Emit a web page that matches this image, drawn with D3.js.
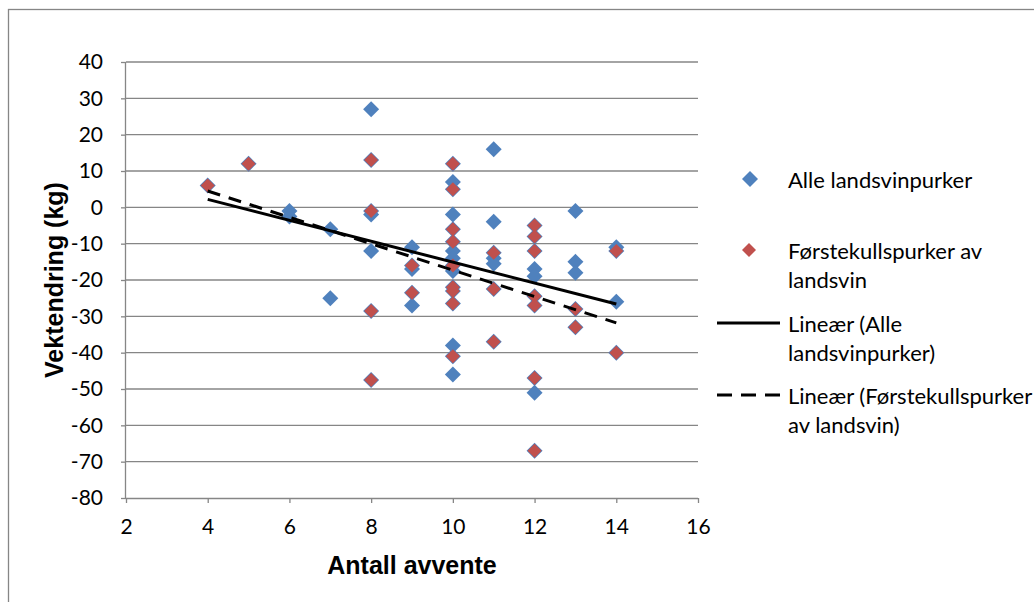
<!DOCTYPE html>
<html>
<head>
<meta charset="utf-8">
<script src="https://cdn.jsdelivr.net/npm/d3@7"></script>
<style>
  body { margin: 0; background: #fff; }
  svg { display: block; }
</style>
</head>
<body>
<svg id="chart" width="1034" height="602"></svg>
<script>
// ---- data ----
const xTicks = [2, 4, 6, 8, 10, 12, 14, 16];
const yTicks = [40, 30, 20, 10, 0, -10, -20, -30, -40, -50, -60, -70, -80];

// All sows (landsvin)
const allX = [4, 5, 6, 6, 7, 7, 8, 8, 8, 8, 8, 8, 8,
              9, 9, 9, 9, 9,
              10, 10, 10, 10, 10, 10, 10, 10, 10, 10, 10, 10, 10, 10, 10, 10,
              11, 11, 11, 11, 11, 11, 11,
              12, 12, 12, 12, 12, 12, 12, 12, 12, 12,
              13, 13, 13, 13, 13,
              14, 14, 14, 14];
const allY = [6, 12, -1, -2.5, -6, -25, 27, 13, -1, -2, -12, -28.5, -47.5,
              -11, -16, -17, -23.5, -27,
              12, 7, 5, -2, -6, -9.5, -12, -14, -16, -22, -23, -26.5, -38, -41, -46, -17.5,
              16, -4, -12.5, -14, -15.5, -22.5, -37,
              -5, -8, -12, -17, -19, -24.5, -27, -47, -51, -67,
              -1, -15, -18, -28, -33,
              -11, -12, -26, -40];

// First-litter sows (subset of the above)
const firstX = [4, 5, 8, 8, 8, 8, 9, 9,
                10, 10, 10, 10, 10, 10, 10, 10, 10,
                11, 11, 11,
                12, 12, 12, 12, 12, 12, 12,
                13, 13, 14, 14];
const firstY = [6, 12, 13, -1, -28.5, -47.5, -16, -23.5,
                12, 5, -6, -9.5, -16, -22, -23, -26.5, -41,
                -12.5, -22.5, -37,
                -5, -8, -12, -24.5, -27, -47, -67,
                -28, -33, -12, -40];

// Linear trend lines: values at the ends of the fitted range
const trendX = [4, 14];
const trendAll = [2.2, -26.6];
const trendFirst = [4.5, -31.8];

const legendLabels = [
  ["Alle landsvinpurker"],
  ["Førstekullspurker av", "landsvin"],
  ["Lineær (Alle", "landsvinpurker)"],
  ["Lineær (Førstekullspurker", "av landsvin)"]
];

// ---- drawing ----
const svg = d3.select("#chart");
const blue = "#4F81BD", red = "#C0504D", grid = "#868686";
const bodyFont = "Lato, 'Open Sans', sans-serif";

const x = d3.scaleLinear().domain([2, 16]).range([126, 698]);
const y = d3.scaleLinear().domain([-80, 40]).range([498, 62]);

// chart frame
svg.append("rect")
  .attr("x", 8.5).attr("y", 9.5).attr("width", 1040).attr("height", 610)
  .attr("fill", "#fff").attr("stroke", grid).attr("stroke-width", 1.3);

// horizontal gridlines
svg.append("g").selectAll("line")
  .data(yTicks.filter(v => v > -80))
  .join("line")
  .attr("x1", x(2)).attr("x2", x(16))
  .attr("y1", d => y(d)).attr("y2", d => y(d))
  .attr("stroke", grid).attr("stroke-width", 1.3);

// axes (plain hyphen-minus for negative labels)
const fmt = d => String(d);
const yAxis = svg.append("g")
  .attr("transform", `translate(${x(2)},0)`)
  .call(d3.axisLeft(y).tickValues(yTicks).tickSize(5).tickPadding(18).tickFormat(fmt));
const xAxis = svg.append("g")
  .attr("transform", `translate(0,${y(-80)})`)
  .call(d3.axisBottom(x).tickValues(xTicks).tickSize(5).tickPadding(16).tickFormat(fmt));

[yAxis, xAxis].forEach(g => {
  g.select(".domain").attr("stroke", grid).attr("stroke-width", 1.3);
  g.selectAll(".tick line").attr("stroke", grid).attr("stroke-width", 1.3);
  g.selectAll(".tick text")
    .attr("fill", "#000")
    .style("font-family", bodyFont)
    .style("font-size", "21px");
});
xAxis.select(".domain").attr("d", `M${x(2)},0.5H${x(16)}`);
yAxis.select(".domain").attr("d", `M-0.5,${y(40)}V${y(-80)}`);

// axis titles
svg.append("text")
  .attr("x", (x(2) + x(16)) / 2).attr("y", 565)
  .attr("text-anchor", "middle").attr("dominant-baseline", "central")
  .style("font-family", "'Liberation Sans', Arial, sans-serif")
  .style("font-weight", "bold").style("font-size", "25px")
  .text("Antall avvente");

svg.append("text")
  .attr("transform", `translate(54,${(y(40) + y(-80)) / 2}) rotate(-90)`)
  .attr("text-anchor", "middle").attr("dominant-baseline", "central")
  .style("font-family", "'Liberation Sans', Arial, sans-serif")
  .style("font-weight", "bold").style("font-size", "25px")
  .text("Vektendring (kg)");

const diamond = h => `M0,${-h}L${h},0L0,${h}L${-h},0Z`;

// all sows
svg.append("g").selectAll("path")
  .data(d3.zip(allX, allY))
  .join("path")
  .attr("transform", d => `translate(${x(d[0])},${y(d[1])})`)
  .attr("d", diamond(8))
  .attr("fill", blue);

// first-litter sows
svg.append("g").selectAll("path")
  .data(d3.zip(firstX, firstY))
  .join("path")
  .attr("transform", d => `translate(${x(d[0])},${y(d[1])})`)
  .attr("d", diamond(7))
  .attr("fill", red);

// trend lines
const line = d3.line().x(d => x(d[0])).y(d => y(d[1]));
svg.append("path")
  .attr("d", line(d3.zip(trendX, trendAll)))
  .attr("fill", "none").attr("stroke", "#000").attr("stroke-width", 3);
svg.append("path")
  .attr("d", line(d3.zip(trendX, trendFirst)))
  .attr("fill", "none").attr("stroke", "#000").attr("stroke-width", 3)
  .attr("stroke-dasharray", "13,9");

// legend
const legendRows = [179, 250, 323, 395];
const lineGap = 29;
const lg = svg.append("g");
legendLabels.forEach((lines, i) => {
  const cy = legendRows[i];
  if (i === 0) lg.append("path").attr("transform", `translate(750,${cy})`).attr("d", diamond(8)).attr("fill", blue);
  if (i === 1) lg.append("path").attr("transform", `translate(749,${cy})`).attr("d", diamond(7)).attr("fill", red);
  if (i >= 2) {
    lg.append("line").attr("x1", 717).attr("x2", 780).attr("y1", cy).attr("y2", cy)
      .attr("stroke", "#000").attr("stroke-width", 3)
      .attr("stroke-dasharray", i === 3 ? "15,9" : null);
  }
  lines.forEach((t, k) => {
    lg.append("text")
      .attr("x", 788).attr("y", cy + k * lineGap)
      .attr("dominant-baseline", "central")
      .style("font-family", bodyFont).style("font-size", "22px")
      .attr("fill", "#000")
      .text(t);
  });
});
</script>
</body>
</html>
